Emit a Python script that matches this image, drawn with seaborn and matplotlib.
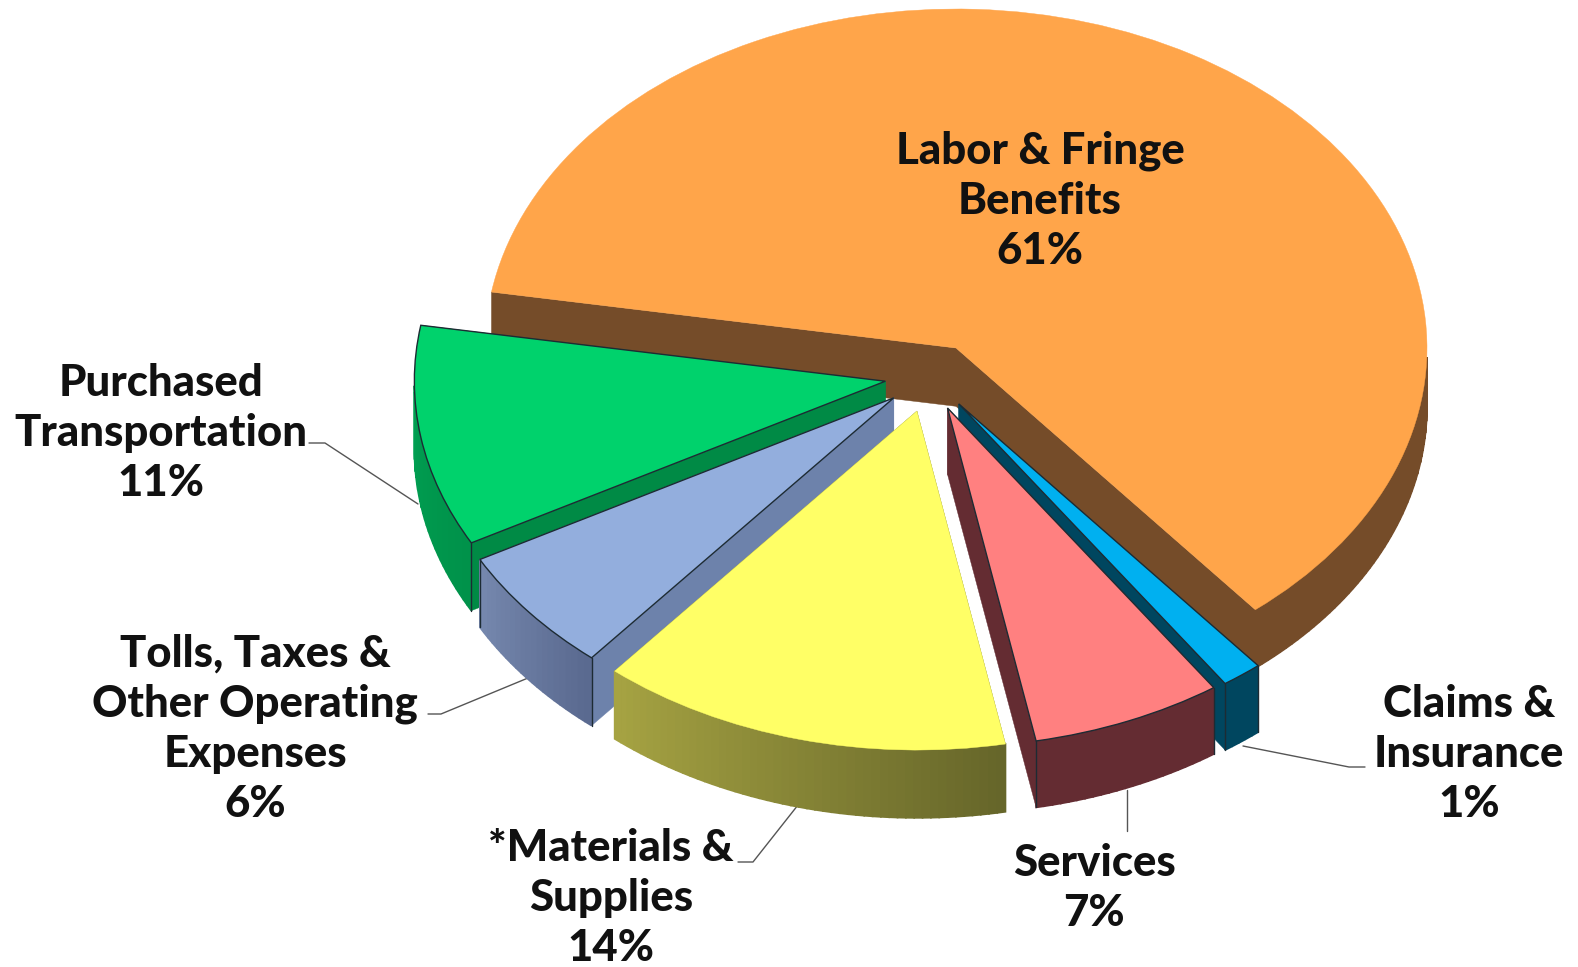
import numpy as np
import matplotlib
matplotlib.use('Agg')
import matplotlib.pyplot as plt
import seaborn as sns

sns.set_theme(style='white')
plt.rcParams['font.family'] = ['Lato', 'DejaVu Sans']

# data
categories = ['Labor & Fringe\nBenefits', 'Claims &\nInsurance', 'Services',
              '*Materials &\nSupplies', 'Tolls, Taxes &\nOther Operating\nExpenses',
              'Purchased\nTransportation']
# they round to the printed percentages
shares = [61.4, 1.4, 6.55, 14.1, 6.0, 10.55]

# styles, one per slice
top_colors = ['#FFA54A', '#00B0F0', '#FF8080', '#FFFF66', '#93AEDD', '#00D26C']
wall_left = ['#754C29', '#00465F', '#642C32', '#A6A342', '#7688AE', '#00A354']
wall_right = ['#754C29', '#00465F', '#642C32', '#66662A', '#5A6A90', '#00924A']
cut_colors = ['#754C29', '#00465F', '#642C32', '#66662A', '#6D82AB', '#008A45']
outlined = [False, True, True, False, True, True]
# where each slice tip sits in the exploded pie (radius units)
shift_x = [0.0, 0.006, -0.018, -0.083, -0.132, -0.150]
shift_y = [0.0, -0.165, -0.177, -0.186, -0.147, -0.098]
depths = [0.172, 0.196, 0.196, 0.200, 0.200, 0.200]
draw_order = [0, 5, 4, 3, 1, 2]

W, H = 1578, 967
cx, cy, rx, ry = 956, 348, 471, 339
line_col = '#1d2b33'

fig = plt.figure(figsize=(W / 100, H / 100), dpi=100, facecolor='white')
ax = fig.add_axes([0, 0, 1, 1])
wedges, _ = ax.pie(shares, colors=top_colors, startangle=170.5, counterclock=False)
ax.set_aspect('auto')
ax.set_xlim(-cx / rx, (W - cx) / rx)
ax.set_ylim(-(H - cy) / ry, cy / ry)
ax.axis('off')


def px(x, y):
    return (x / W, 1 - y / H)


for z, i in enumerate(draw_order):
    w = wedges[i]
    x0, y0, d = shift_x[i], shift_y[i], depths[i]
    w.set_center((x0, y0))
    w.set_zorder(10 * z + 5)
    w.set_edgecolor(line_col if outlined[i] else top_colors[i])
    w.set_linewidth(1.0 if outlined[i] else 0.3)

    # walls of the two cuts
    for ang in (w.theta1, w.theta2):
        ex = x0 + np.cos(np.radians(ang))
        ey = y0 + np.sin(np.radians(ang))
        ax.fill([x0, ex, ex, x0], [y0, ey, ey - d, y0 - d], color=cut_colors[i],
                lw=0.3, zorder=10 * z + 1)
        if outlined[i] and np.sin(np.radians(ang)) < 0:
            ax.plot([ex, ex], [ey, ey - d], color=line_col, lw=1, zorder=10 * z + 6)

    # outer wall, strips shaded from left to right, back side stays hidden
    n = max(int(w.theta2 - w.theta1), 3)
    angs = np.radians(np.linspace(w.theta1, w.theta2, n + 1))
    xs = x0 + np.cos(angs)
    ys = y0 + np.sin(angs)
    order = np.argsort((xs[:-1] + xs[1:]) / 2)
    shade = sns.blend_palette([wall_left[i], wall_right[i]], n)
    for rank, k in enumerate(order):
        if np.sin(angs[k]) > -0.01 or np.sin(angs[k + 1]) > -0.01:
            continue
        ax.fill([xs[k], xs[k + 1], xs[k + 1], xs[k]],
                [ys[k], ys[k + 1], ys[k + 1] - d, ys[k] - d],
                color=shade[rank], lw=1.2, zorder=10 * z + 2)

# labels
label_x = [1040, 161, 255, 611, 1094, 1469]
label_y = [201, 433, 729, 898, 888, 754]
label_slice = [0, 5, 4, 3, 2, 1]
for x, y, i in zip(label_x, label_y, label_slice):
    tx, ty = px(x, y)
    fig.text(tx, ty, f'{categories[i]}\n{round(shares[i])}%', ha='center', va='center',
             fontsize=31.5, fontweight='black', color='#111111', linespacing=1.305,
             transform=fig.transFigure, zorder=200)

# leader lines
leaders = [
    [(309, 443), (325, 443), (418, 504)],
    [(428, 714), (441, 714), (528, 678)],
    [(738, 862), (753, 862), (798, 805)],
    [(1127, 790), (1127, 831)],
    [(1243, 746), (1349, 767), (1365, 767)],
]
for pts in leaders:
    lx, ly = zip(*[px(a, b) for a, b in pts])
    ax.plot(lx, ly, color='#555555', lw=1, transform=fig.transFigure, zorder=1)

fig.savefig('out.png', dpi=100)
